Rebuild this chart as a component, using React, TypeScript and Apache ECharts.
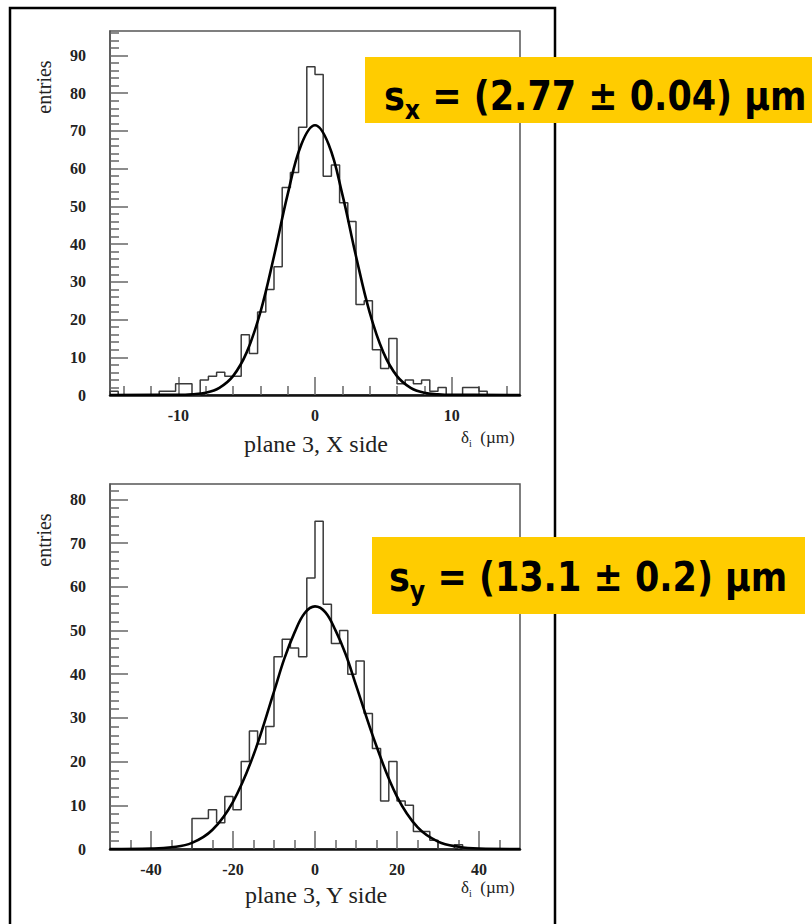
import React, { useEffect, useRef } from "react";
import * as echarts from "echarts";

// ---------- data ----------
const topXMin = -15;
const topXMax = 15;
const topYMax = 96.5;
const topBinWidth = 0.6;
const topCounts = [
  1, 0, 0, 0, 0, 0, 1, 1, 3, 3,
  0, 4, 5, 6, 5, 5, 16, 11, 22, 28,
  34, 55, 59, 71, 87, 85, 58, 61, 51, 46,
  24, 25, 12, 7, 15, 3, 4, 3, 4, 1,
  2, 0, 0, 2, 2, 1, 0, 0, 0, 0,
];
const topFitX = [-15, -10, -9, -8, -7, -6, -5, -4, -3, -2, -1, 0, 1, 2, 3, 4, 5, 6, 7, 8, 9, 10, 15];
const topFitY = [0, 0.05, 0.2, 0.6, 1.9, 5, 11.3, 21.9, 36.8, 53.2, 66.4, 71.5, 66.4, 53.2, 36.8, 21.9, 11.3, 5, 1.9, 0.6, 0.2, 0.05, 0];

const botXMin = -50;
const botXMax = 50;
const botYMax = 83.5;
const botBinWidth = 2;
const botCounts = [
  0, 0, 0, 0, 0, 0, 0, 0, 0, 0,
  7, 7, 9, 6, 12, 9, 20, 27, 24, 28,
  44, 48, 46, 44, 62, 75, 56, 47, 50, 40,
  43, 31, 23, 11, 20, 11, 10, 4, 4, 2,
  0, 0, 1, 0, 0, 0, 0, 0, 0, 0,
];
const botFitX = [-50, -40, -35, -30, -25, -20, -15, -10, -7.5, -5, -2.5, 0, 2.5, 5, 7.5, 10, 15, 20, 25, 30, 35, 40, 50];
const botFitY = [0, 0.1, 0.4, 1.4, 4.4, 10.8, 21.5, 36, 43.5, 49.5, 54, 55.5, 54.2, 50, 44.5, 37.5, 23.5, 12, 5, 1.7, 0.5, 0.1, 0];

// tick values
const topXMajor = [-10, 0, 10];
const topXMinor = [-14, -12, -8, -6, -4, -2, 2, 4, 6, 8, 12, 14];
const topYMajor = [0, 10, 20, 30, 40, 50, 60, 70, 80, 90];
const topYMinor = [2, 4, 6, 8, 12, 14, 16, 18, 22, 24, 26, 28, 32, 34, 36, 38, 42, 44, 46, 48, 52, 54, 56, 58, 62, 64, 66, 68, 72, 74, 76, 78, 82, 84, 86, 88, 92, 94, 96];
const botXMajor = [-40, -20, 0, 20, 40];
const botXMinor = [-45, -35, -30, -25, -15, -10, -5, 5, 10, 15, 25, 30, 35, 45];
const botYMajor = [0, 10, 20, 30, 40, 50, 60, 70, 80];
const botYMinor = [2, 4, 6, 8, 12, 14, 16, 18, 22, 24, 26, 28, 32, 34, 36, 38, 42, 44, 46, 48, 52, 54, 56, 58, 62, 64, 66, 68, 72, 74, 76, 78, 82];

// texts
const topTitle = "plane 3, X side";
const botTitle = "plane 3, Y side";
const yTitle = "entries";
const topResult = { sub: "x", rest: " = (2.77 \u00b1 0.04) \u00b5m" };
const botResult = { sub: "y", rest: " = (13.1 \u00b1 0.2) \u00b5m" };

function histPoints(counts: number[], xMin: number, w: number, xMax: number) {
  const pts: number[][] = [[xMin, 0]];
  counts.forEach((c, k) => pts.push([xMin + k * w, c]));
  pts.push([xMin + counts.length * w, counts[counts.length - 1]]);
  pts.push([xMax, 0]);
  return pts;
}

const SERIF = "'Liberation Serif', 'DejaVu Serif', serif";
const SANS = "'DejaVu Sans', 'Liberation Sans', sans-serif";
const FRAME = "#555";

function majorX(grid: number, min: number, max: number, vals: number[]) {
  return {
    type: "value", gridIndex: grid, min, max, position: "bottom",
    axisLine: { show: true, onZero: false, lineStyle: { color: "#111", width: 2.5 } },
    axisTick: { show: true, inside: true, length: 18, customValues: vals, lineStyle: { color: "#666", width: 1.5 } },
    axisLabel: { show: true, customValues: vals, margin: 12, fontFamily: SERIF, fontWeight: "bold", fontSize: 16, color: "#222" },
    splitLine: { show: false },
  };
}
function minorX(grid: number, min: number, max: number, vals: number[]) {
  return {
    type: "value", gridIndex: grid, min, max, position: "bottom",
    axisLine: { show: false, onZero: false },
    axisTick: { show: true, inside: true, length: 9, customValues: vals, lineStyle: { color: "#666", width: 1.5 } },
    axisLabel: { show: false },
    splitLine: { show: false },
  };
}
function majorY(grid: number, max: number, vals: number[]) {
  return {
    type: "value", gridIndex: grid, min: 0, max, position: "left",
    axisLine: { show: true, onZero: false, lineStyle: { color: FRAME, width: 1.5 } },
    axisTick: { show: true, inside: true, length: 18, customValues: vals, lineStyle: { color: "#666", width: 1.5 } },
    axisLabel: { show: true, customValues: vals, margin: 24, fontFamily: SERIF, fontWeight: "bold", fontSize: 16, color: "#222" },
    splitLine: { show: false },
  };
}
function minorY(grid: number, max: number, vals: number[]) {
  return {
    type: "value", gridIndex: grid, min: 0, max, position: "left",
    axisLine: { show: false, onZero: false },
    axisTick: { show: true, inside: true, length: 9, customValues: vals, lineStyle: { color: "#666", width: 1.5 } },
    axisLabel: { show: false },
    splitLine: { show: false },
  };
}

function resultText(x: number, y: number, r: { sub: string; rest: string }) {
  return {
    type: "text", x, y, z: 110, scaleX: 0.875,
    style: {
      text: `{m|s}{b|${r.sub}}{m|${r.rest}}`,
      align: "left", verticalAlign: "middle",
      rich: {
        m: { fontSize: 40, fontWeight: "bold", fontFamily: SANS, fill: "#000", lineHeight: 54 },
        b: { fontSize: 27, fontWeight: "bold", fontFamily: SANS, fill: "#000", lineHeight: 25, verticalAlign: "bottom" },
      },
    },
  };
}

function deltaLabel(x: number, y: number) {
  return {
    type: "text", x, y, z: 50,
    style: {
      text: "{d|\u03b4}{i|i}{d|  (\u00b5m)}",
      align: "left", verticalAlign: "middle",
      rich: {
        d: { fontSize: 17, fontFamily: SERIF, fill: "#222", lineHeight: 22 },
        i: { fontSize: 10, fontFamily: SERIF, fill: "#222", lineHeight: 10, verticalAlign: "bottom" },
      },
    },
  };
}

export default function App() {
  const ref = useRef<HTMLDivElement>(null);
  useEffect(() => {
    if (!ref.current) return;
    const chart = echarts.init(ref.current, undefined, { renderer: "svg" });
    const topFit = topFitX.map((x, i) => [x, topFitY[i]]);
    const botFit = botFitX.map((x, i) => [x, botFitY[i]]);
    const option: any = {
      animation: false,
      backgroundColor: "#fff",
      grid: [
        { left: 110, top: 31, width: 410, height: 364, show: true, borderColor: FRAME, borderWidth: 1.5, backgroundColor: "transparent" },
        { left: 110, top: 484, width: 410, height: 365, show: true, borderColor: FRAME, borderWidth: 1.5, backgroundColor: "transparent" },
      ],
      xAxis: [
        majorX(0, topXMin, topXMax, topXMajor),
        minorX(0, topXMin, topXMax, topXMinor),
        majorX(1, botXMin, botXMax, botXMajor),
        minorX(1, botXMin, botXMax, botXMinor),
      ],
      yAxis: [
        majorY(0, topYMax, topYMajor),
        minorY(0, topYMax, topYMinor),
        majorY(1, botYMax, botYMajor),
        minorY(1, botYMax, botYMinor),
      ],
      series: [
        {
          type: "line", xAxisIndex: 0, yAxisIndex: 0, step: "end", symbol: "none", clip: true, z: 2,
          data: histPoints(topCounts, topXMin, topBinWidth, topXMax),
          lineStyle: { color: "#3a3a3a", width: 1.5 },
        },
        {
          type: "line", xAxisIndex: 0, yAxisIndex: 0, smooth: 0.4, symbol: "none", clip: true, z: 3,
          data: topFit, lineStyle: { color: "#000", width: 2.6 },
        },
        {
          type: "line", xAxisIndex: 2, yAxisIndex: 2, step: "end", symbol: "none", clip: true, z: 2,
          data: histPoints(botCounts, botXMin, botBinWidth, botXMax),
          lineStyle: { color: "#3a3a3a", width: 1.5 },
        },
        {
          type: "line", xAxisIndex: 2, yAxisIndex: 2, smooth: 0.4, symbol: "none", clip: true, z: 3,
          data: botFit, lineStyle: { color: "#000", width: 2.6 },
        },
      ],
      graphic: [
        { type: "rect", z: 1, shape: { x: 10, y: 8, width: 545, height: 940 }, style: { fill: "none", stroke: "#000", lineWidth: 2.5 } },
        { type: "text", x: 44, y: 87, rotation: Math.PI / 2, z: 50, style: { text: yTitle, fontFamily: SERIF, fontSize: 20, fill: "#222", align: "center", verticalAlign: "middle" } },
        { type: "text", x: 44, y: 540, rotation: Math.PI / 2, z: 50, style: { text: yTitle, fontFamily: SERIF, fontSize: 20, fill: "#222", align: "center", verticalAlign: "middle" } },
        { type: "text", x: 316, y: 444, z: 50, style: { text: topTitle, fontFamily: SERIF, fontSize: 24, fill: "#222", align: "center", verticalAlign: "middle" } },
        { type: "text", x: 316, y: 895, z: 50, style: { text: botTitle, fontFamily: SERIF, fontSize: 24, fill: "#222", align: "center", verticalAlign: "middle" } },
        deltaLabel(461, 437),
        deltaLabel(461, 887),
        { type: "rect", z: 100, shape: { x: 365, y: 57, width: 460, height: 66 }, style: { fill: "#FFCC00" } },
        { type: "rect", z: 100, shape: { x: 372, y: 537, width: 433, height: 77 }, style: { fill: "#FFCC00" } },
        resultText(384, 96, topResult),
        resultText(389, 577, botResult),
      ],
    };
    chart.setOption(option);
    return () => chart.dispose();
  }, []);
  return <div ref={ref} style={{ position: "absolute", left: 0, top: 0, width: 812, height: 924 }} />;
}
